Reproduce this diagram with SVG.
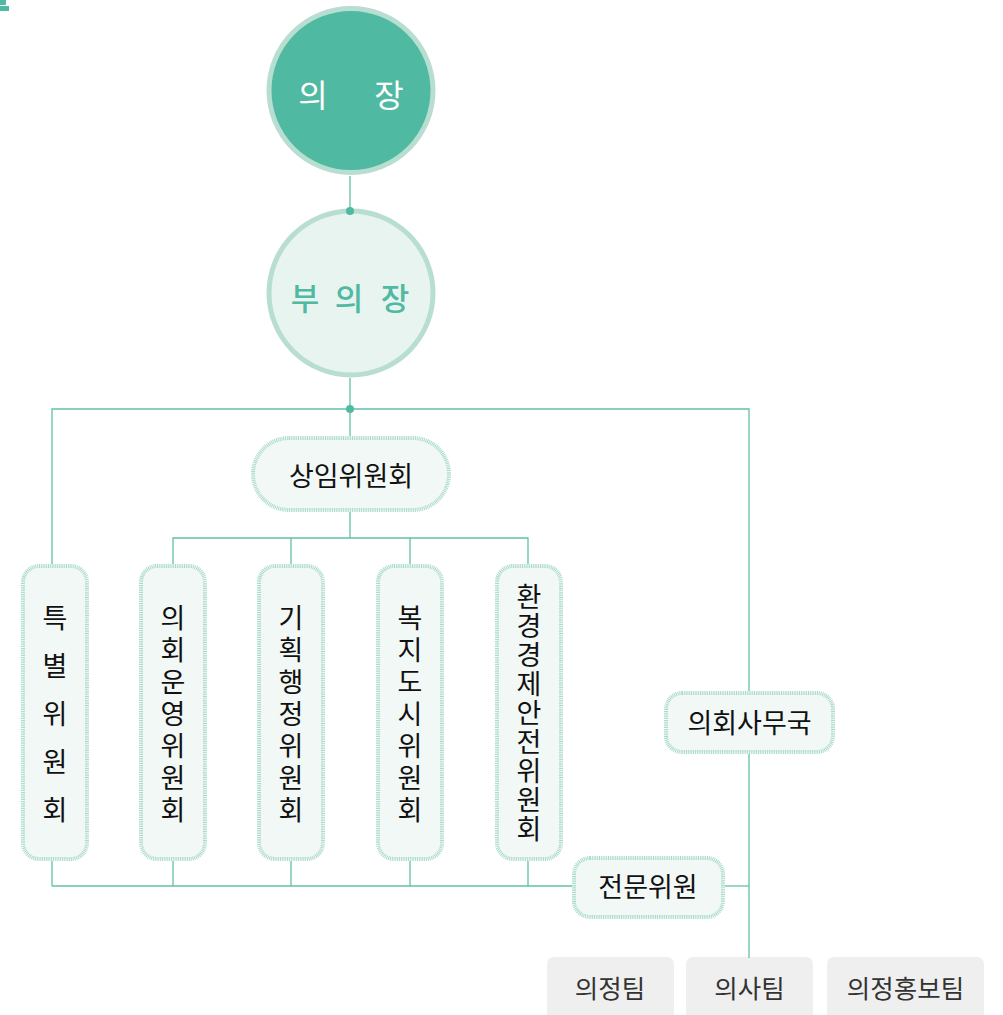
<svg xmlns="http://www.w3.org/2000/svg" width="1003" height="1015" viewBox="0 0 1003 1015">
<style>
.ln{stroke:#62c0a8;stroke-width:1.3;fill:none}
.dot{fill:#50b9a2}
.box{fill:#f1f8f5;stroke:#aadbc9;stroke-width:4;stroke-dasharray:1 0.8}
.team{fill:#efefef}
.t{font-family:"Noto Sans CJK KR","Noto Sans",sans-serif;font-size:27px;fill:#111;text-anchor:middle}
.v{font-family:"Noto Sans CJK KR","Noto Sans",sans-serif;font-size:27px;fill:#111;text-anchor:middle}
.tm{font-family:"Noto Sans CJK KR","Noto Sans",sans-serif;font-size:25.5px;fill:#333;text-anchor:middle}
</style>
<rect width="1003" height="1015" fill="#fff"/>
<g id="corner">
<rect x="0" y="0" width="6" height="5" fill="#50b9a2"/>
<rect x="0" y="6" width="9" height="5" fill="#50b9a2"/>
</g>
<g id="chairman">
<circle cx="351" cy="90.5" r="82" fill="#50b9a2" stroke="#b8ddd1" stroke-width="5"/>
<text x="313" y="107" font-family="'Noto Sans CJK KR',sans-serif" font-size="32" fill="#fff" text-anchor="middle">의</text>
<text x="389" y="107" font-family="'Noto Sans CJK KR',sans-serif" font-size="32" fill="#fff" text-anchor="middle">장</text>
</g>
<g id="vice">
<circle cx="351" cy="293" r="82" fill="#e7f4ef" stroke="#b8ddd1" stroke-width="5"/>
<text y="310" font-family="'Noto Sans CJK KR',sans-serif" font-size="31" font-weight="500" fill="#50b9a2" text-anchor="middle"><tspan x="305">부</tspan><tspan x="349">의</tspan><tspan x="395">장</tspan></text>
</g>
<g id="standing">
<rect class="box" x="253" y="438" width="196" height="72" rx="36"/>
<text class="t" x="351" y="486">상임위원회</text>
</g>
<g id="special">
<rect class="box" x="23" y="566" width="64" height="293" rx="16"/>
<text class="v"><tspan x="55" y="628">특</tspan><tspan x="55" y="676">별</tspan><tspan x="55" y="724">위</tspan><tspan x="55" y="772">원</tspan><tspan x="55" y="820">회</tspan></text>
</g>
<g id="steering">
<rect class="box" x="141" y="566" width="64" height="293" rx="16"/>
<text class="v"><tspan x="173" y="628">의</tspan><tspan x="173" y="660">회</tspan><tspan x="173" y="692">운</tspan><tspan x="173" y="724">영</tspan><tspan x="173" y="756">위</tspan><tspan x="173" y="788">원</tspan><tspan x="173" y="820">회</tspan></text>
</g>
<g id="planning">
<rect class="box" x="259" y="566" width="64" height="293" rx="16"/>
<text class="v"><tspan x="291" y="628">기</tspan><tspan x="291" y="660">획</tspan><tspan x="291" y="692">행</tspan><tspan x="291" y="724">정</tspan><tspan x="291" y="756">위</tspan><tspan x="291" y="788">원</tspan><tspan x="291" y="820">회</tspan></text>
</g>
<g id="welfare">
<rect class="box" x="378" y="566" width="64" height="293" rx="16"/>
<text class="v"><tspan x="410" y="628">복</tspan><tspan x="410" y="660">지</tspan><tspan x="410" y="692">도</tspan><tspan x="410" y="724">시</tspan><tspan x="410" y="756">위</tspan><tspan x="410" y="788">원</tspan><tspan x="410" y="820">회</tspan></text>
</g>
<g id="environment">
<rect class="box" x="497" y="566" width="64" height="293" rx="16"/>
<text class="v"><tspan x="529" y="607">환</tspan><tspan x="529" y="636">경</tspan><tspan x="529" y="665">경</tspan><tspan x="529" y="694">제</tspan><tspan x="529" y="723">안</tspan><tspan x="529" y="752">전</tspan><tspan x="529" y="781">위</tspan><tspan x="529" y="810">원</tspan><tspan x="529" y="839">회</tspan></text>
</g>
<g id="secretariat">
<rect class="box" x="666" y="693" width="167" height="59" rx="16"/>
<text class="t" x="749.5" y="733">의회사무국</text>
</g>
<g id="experts">
<rect class="box" x="574" y="858" width="149" height="59" rx="16"/>
<text class="t" x="648" y="897">전문위원</text>
</g>
<g id="team1">
<rect class="team" x="547" y="957" width="127" height="70" rx="7"/>
<text class="tm" x="610" y="998">의정팀</text>
</g>
<g id="team2">
<rect class="team" x="686" y="957" width="127" height="70" rx="7"/>
<text class="tm" x="749.5" y="998">의사팀</text>
</g>
<g id="team3">
<rect class="team" x="827" y="957" width="157" height="70" rx="7"/>
<text class="tm" x="905.5" y="998">의정홍보팀</text>
</g>
<g id="connectors">
<line class="ln" x1="350" y1="176" x2="350" y2="209"/>
<line class="ln" x1="350" y1="378" x2="350" y2="436"/>
<polyline class="ln" points="52,564 52,409 749,409 749,691"/>
<line class="ln" x1="749" y1="754" x2="749" y2="958"/>
<line class="ln" x1="350" y1="512" x2="350" y2="538"/>
<polyline class="ln" points="173,564 173,538 528,538 528,564"/>
<line class="ln" x1="291" y1="538" x2="291" y2="564"/>
<line class="ln" x1="410" y1="538" x2="410" y2="564"/>
<line class="ln" x1="52" y1="861" x2="52" y2="886"/>
<line class="ln" x1="173" y1="861" x2="173" y2="886"/>
<line class="ln" x1="291" y1="861" x2="291" y2="886"/>
<line class="ln" x1="410" y1="861" x2="410" y2="886"/>
<line class="ln" x1="528" y1="861" x2="528" y2="886"/>
<line class="ln" x1="52" y1="886" x2="572" y2="886"/>
<line class="ln" x1="725" y1="886" x2="749" y2="886"/>
<circle class="dot" cx="350" cy="211" r="4"/>
<circle class="dot" cx="350" cy="409" r="4"/>
</g>
</svg>
